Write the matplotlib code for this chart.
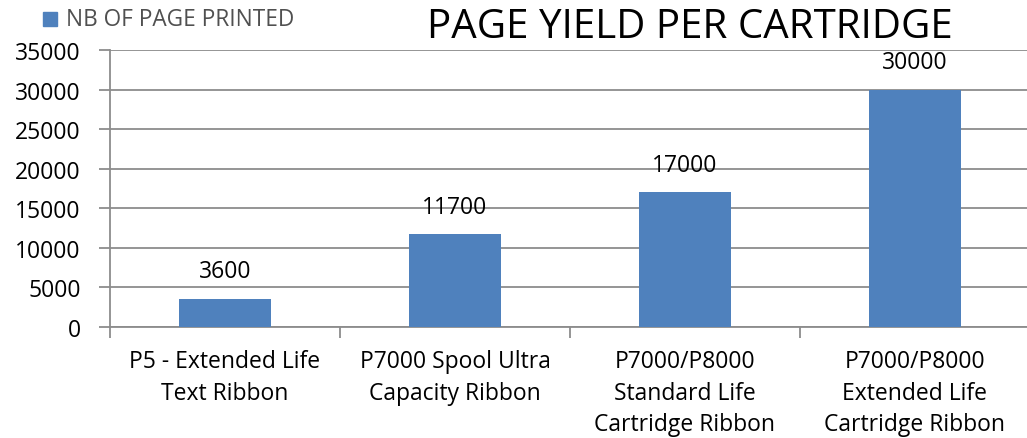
import matplotlib
matplotlib.use("Agg")
import matplotlib.pyplot as plt
from matplotlib.patches import Rectangle

categories = ["P5 - Extended Life\nText Ribbon",
              "P7000 Spool Ultra\nCapacity Ribbon",
              "P7000/P8000\nStandard Life\nCartridge Ribbon",
              "P7000/P8000\nExtended Life\nCartridge Ribbon"]
values = [3600, 11700, 17000, 30000]
yticks = [0, 5000, 10000, 15000, 20000, 25000, 30000, 35000]
series_name = "NB OF PAGE PRINTED"
title = "PAGE YIELD PER CARTRIDGE"

plt.rcParams['font.family'] = ['Open Sans', 'DejaVu Sans']
W, H = 1027, 439
fig = plt.figure(figsize=(W/100, H/100), dpi=100)
ax = fig.add_axes([110/W, 1-328/H, 920/W, 277/H])

bar_color = "#4F81BD"
grid_color = "#8C8C8C"
x = list(range(len(values)))
ax.bar(x, values, width=0.4, color=bar_color, zorder=3)
ax.set_xlim(-0.5, len(values)-0.5)
ax.set_ylim(0, 35000)
ax.set_yticks(yticks)
ax.set_yticklabels([str(v) for v in yticks], fontsize=16.5, color="#000000")
ax.yaxis.grid(True, color=grid_color, linewidth=1.3, zorder=0)
ax.set_xticks([i - 0.5 for i in range(len(values)+1)])
ax.set_xticklabels([])
ax.set_xticks(x, minor=True)
ax.set_xticklabels(categories, minor=True, fontsize=16.5, linespacing=1.42)
ax.tick_params(axis='x', which='minor', length=0, pad=16)
ax.tick_params(axis='x', which='major', length=8, width=1.3, color=grid_color)
ax.tick_params(axis='y', length=8, width=1.3, color=grid_color, pad=13)
for s in ['top', 'right']:
    ax.spines[s].set_visible(False)
for s in ['left', 'bottom']:
    ax.spines[s].set_color(grid_color)
    ax.spines[s].set_linewidth(1.3)
for xi, v in zip(x, values):
    ax.annotate(str(v), (xi, v), xytext=(0, 20), textcoords='offset points',
                ha='center', va='center', fontsize=16.5)

fig.text(690/W, 1-28/H, title, fontsize=29, ha='center', va='center')
fig.patches.append(Rectangle((43/W, 1-27/H), 14/W, 14/H, transform=fig.transFigure,
                             color=bar_color, figure=fig))
fig.text(66/W, 1-20/H, series_name, fontsize=16.3, ha='left', va='center', color="#505050")

fig.savefig("out.png", dpi=100)
